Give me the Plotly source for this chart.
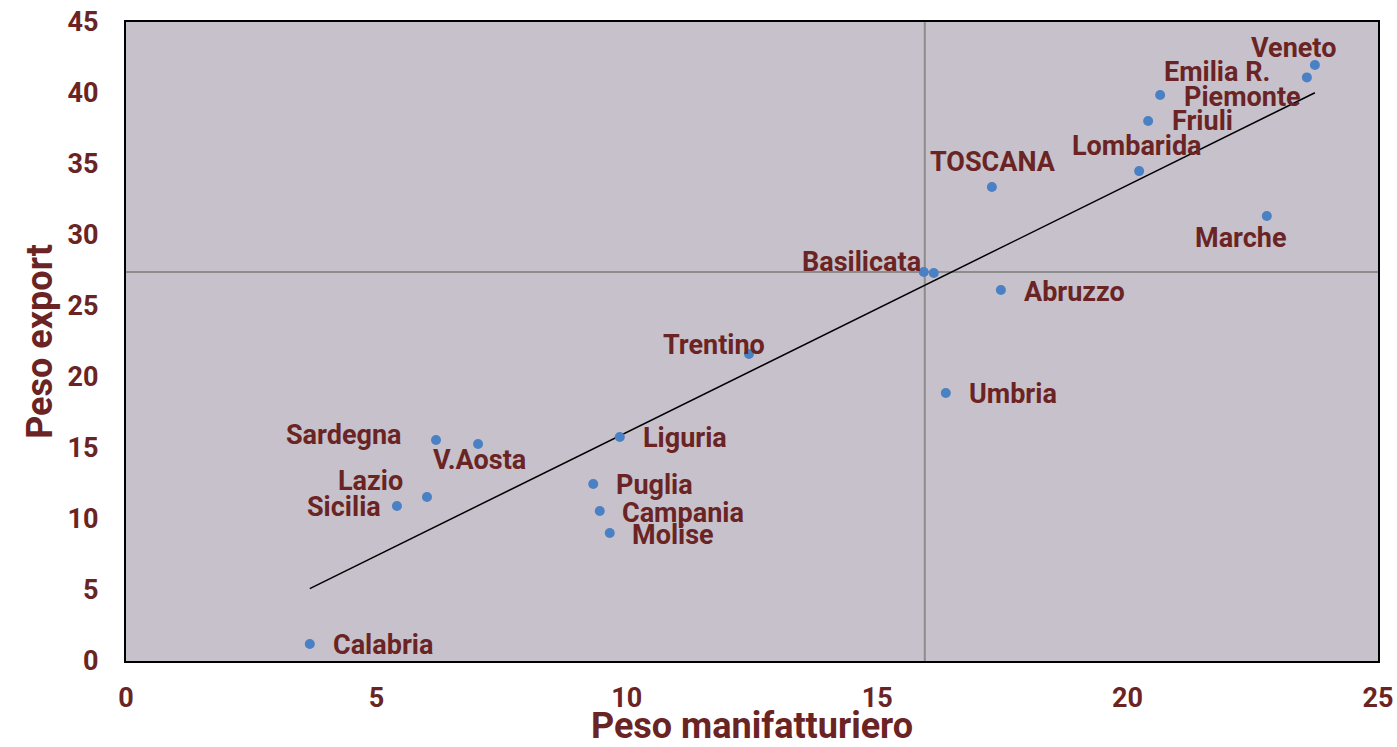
import numpy as np
import plotly.graph_objects as go

regions = ["Veneto", "Emilia R.", "Piemonte", "Friuli", "Lombarida", "TOSCANA", "Marche",
           "Basilicata", "Italia", "Abruzzo", "Trentino", "Umbria", "Liguria", "Sardegna",
           "V.Aosta", "Lazio", "Sicilia", "Puglia", "Campania", "Molise", "Calabria"]
peso_manif = [23.74, 23.58, 20.65, 20.41, 20.23, 17.29, 22.78,
              15.93, 16.13, 17.47, 12.44, 16.37, 9.86, 6.19,
              7.03, 6.01, 5.41, 9.33, 9.46, 9.66, 3.67]
peso_export = [41.97, 41.1, 39.86, 38.03, 34.5, 33.38, 31.34,
               27.39, 27.32, 26.13, 21.62, 18.87, 15.77, 15.56,
               15.28, 11.55, 10.92, 12.46, 10.56, 9.01, 1.2]
media_manif = 15.95
media_export = 27.4

# label placement: (xanchor, xshift, yshift)
label_pos = {
    "Veneto": ("center", -21, 17), "Emilia R.": ("right", -35, 5), "Piemonte": ("left", 22, -2),
    "Friuli": ("left", 22, 0), "Lombarida": ("center", -2, 25), "TOSCANA": ("center", 1, 25),
    "Marche": ("center", -26, -22), "Basilicata": ("right", -1, 10), "Abruzzo": ("left", 21, -2),
    "Trentino": ("right", 18, 9), "Umbria": ("left", 21, -1), "Liguria": ("left", 21, -1),
    "Sardegna": ("right", -32, 5), "V.Aosta": ("center", 1, -16), "Lazio": ("right", -22, 16),
    "Sicilia": ("right", -14, -1), "Puglia": ("left", 21, -1), "Campania": ("left", 20, -2),
    "Molise": ("left", 20, -2), "Calabria": ("left", 21, -1),
}

txt = "#6B2424"
font_family = "Liberation Sans Narrow, Arial Narrow, Roboto, sans-serif"

x = np.array(peso_manif)
y = np.array(peso_export)
slope, intercept = np.polyfit(x, y, 1)
xl = np.array([x.min(), x.max()])

fig = go.Figure()
fig.add_trace(go.Scatter(x=xl, y=slope * xl + intercept, mode="lines",
                         line=dict(color="black", width=1.5), hoverinfo="skip"))
fig.add_trace(go.Scatter(x=peso_manif, y=peso_export, mode="markers", text=regions,
                         marker=dict(color="#4A80C4", size=10)))

for r, xv, yv in zip(regions, peso_manif, peso_export):
    if r not in label_pos:
        continue
    xa, xs, ys = label_pos[r]
    fig.add_annotation(x=xv, y=yv, text=r, showarrow=False, xanchor=xa, yanchor="middle",
                       xshift=xs, yshift=ys,
                       font=dict(family=font_family, size=27, color=txt, weight="bold"))

fig.add_shape(type="line", x0=media_manif, x1=media_manif, y0=0, y1=45,
              line=dict(color="#8C8C8C", width=2), layer="below")
fig.add_shape(type="line", x0=0, x1=25, y0=media_export, y1=media_export,
              line=dict(color="#8C8C8C", width=2), layer="below")

fig.update_layout(
    width=1397, height=747,
    margin=dict(l=126, r=19, t=22, b=86),
    paper_bgcolor="white", plot_bgcolor="#C7C1CB",
    showlegend=False,
    font=dict(family=font_family, color=txt, weight="bold"),
)
fig.update_xaxes(range=[0, 25], dtick=5, showgrid=False, zeroline=False, automargin=False,
                 showline=True, linecolor="black", linewidth=2, mirror=True,
                 ticks="", ticklabelstandoff=12, tickfont=dict(size=27, color=txt, weight="bold"),
                 title=dict(text="Peso manifatturiero", standoff=2,
                            font=dict(size=36, color=txt, weight="bold")))
fig.update_yaxes(range=[0, 45], dtick=5, showgrid=False, zeroline=False, automargin=False,
                 showline=True, linecolor="black", linewidth=2, mirror=True,
                 ticks="", ticklabelstandoff=20, tickfont=dict(size=27, color=txt, weight="bold"),
                 title=dict(text="Peso export", standoff=4,
                            font=dict(size=36, color=txt, weight="bold")))

fig.write_html("out.html", config={"displayModeBar": False},
               post_script="document.body.style.margin='0';document.body.style.overflow='hidden';")
